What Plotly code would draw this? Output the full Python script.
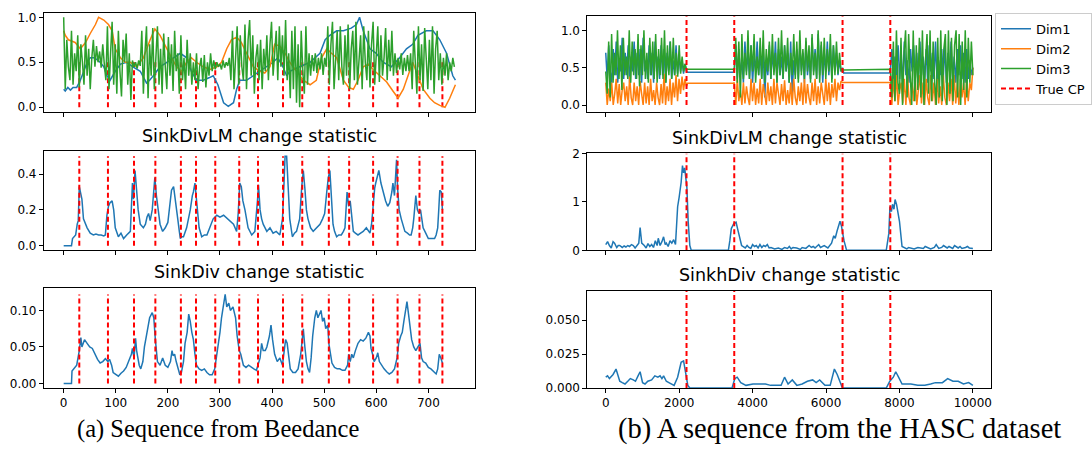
import numpy as np
import plotly.graph_objects as go

W, H = 1092, 461
BLUE, ORANGE, GREEN, RED = "#1f77b4", "#ff7f0e", "#2ca02c", "#ff0000"

# ---------------- Beedance (a) ----------------
bee_cp = [30, 85, 135, 176, 225, 254, 291, 337, 373, 421, 458, 509, 548, 594, 641, 683, 727]

bee_dim1_x = [0, 3, 8, 13, 18, 25, 32, 38, 45, 51, 58, 64, 70, 77, 83, 89, 99, 109, 121, 133, 147, 159, 165, 172,
              185, 198, 211, 224, 236, 245, 255, 268, 280, 287, 296, 303, 307, 316, 326, 332, 338, 351, 364, 377,
              390, 402, 411, 421, 428, 434, 453, 473, 492, 502, 511, 524, 537, 552, 562, 568, 575, 581, 588, 600,
              613, 629, 645, 658, 670, 680, 696, 709, 722, 735, 747, 752]
bee_dim1_y = [0.2, 0.18, 0.22, 0.19, 0.22, 0.22, 0.3, 0.4, 0.5, 0.55, 0.55, 0.53, 0.5, 0.45, 0.35, 0.3, 0.4, 0.48,
              0.5, 0.45, 0.4, 0.27, 0.3, 0.35, 0.45, 0.5, 0.55, 0.6, 0.55, 0.4, 0.3, 0.3, 0.33, 0.35, 0.25, 0.12,
              0.05, 0.01, 0.05, 0.2, 0.3, 0.3, 0.35, 0.4, 0.45, 0.5, 0.55, 0.45, 0.35, 0.4, 0.45, 0.5, 0.6, 0.75,
              0.8, 0.85, 0.85, 0.88, 0.92, 1.0, 0.85, 0.75, 0.65, 0.6, 0.5, 0.45, 0.55, 0.65, 0.7, 0.8, 0.85, 0.85,
              0.75, 0.6, 0.35, 0.3]

bee_dim2_x = [0, 3, 9, 22, 32, 42, 51, 61, 67, 77, 86, 93, 99, 109, 118, 128, 140, 153, 166, 175, 185, 198, 207,
              217, 226, 236, 245, 255, 268, 281, 294, 303, 313, 322, 332, 341, 351, 364, 377, 386, 396, 405, 415,
              425, 434, 447, 460, 473, 485, 495, 505, 514, 524, 537, 547, 556, 565, 575, 585, 594, 607, 620, 632,
              642, 652, 661, 670, 680, 690, 703, 712, 722, 732, 741, 752]
bee_dim2_y = [0.85, 0.8, 0.75, 0.72, 0.65, 0.72, 0.82, 0.92, 1.0, 0.97, 0.92, 0.85, 0.65, 0.55, 0.5, 0.5, 0.45,
              0.55, 0.75, 0.87, 0.8, 0.65, 0.55, 0.45, 0.4, 0.5, 0.55, 0.5, 0.45, 0.42, 0.45, 0.5, 0.65, 0.75, 0.78,
              0.72, 0.6, 0.45, 0.4, 0.38, 0.45, 0.7, 0.68, 0.6, 0.5, 0.4, 0.3, 0.25, 0.3, 0.55, 0.65, 0.6, 0.55,
              0.3, 0.22, 0.2, 0.3, 0.45, 0.48, 0.42, 0.35, 0.28, 0.18, 0.1, 0.2, 0.35, 0.5, 0.35, 0.2, 0.1, 0.05,
              0.02, 0.0, 0.1, 0.25]

# Dim3 sampled every 3 time steps
bee_dim3_y = [
    1.0, 0.2, 0.75, 0.45, 0.3, 0.85, 0.25, 0.6, 0.4, 0.8,
    0.22, 0.7, 0.5, 0.25, 0.8, 0.35, 0.65, 0.2, 0.55, 0.75,
    0.45, 0.68, 0.5, 0.62, 0.44, 0.7, 0.48, 0.3, 0.9, 0.2,
    0.6, 0.95, 0.25, 0.7, 0.15, 0.85, 0.4, 0.12, 0.75, 0.5,
    0.82, 0.25, 0.6, 0.08, 0.52, 0.45, 0.5, 0.43, 0.52, 0.46,
    0.85, 0.15, 0.6, 0.9, 0.1, 0.7, 0.35, 0.88, 0.2, 0.55,
    0.9, 0.25, 0.65, 0.15, 0.82, 0.45, 0.2, 0.78, 0.35, 0.7,
    0.18, 0.85, 0.4, 0.6, 0.15, 0.8, 0.3, 0.55, 0.2, 0.75,
    0.35, 0.6, 0.25, 0.5, 0.3, 0.6, 0.2, 0.45, 0.55, 0.28,
    0.58, 0.22, 0.5, 0.35, 0.6, 0.4, 0.52, 0.42, 0.5, 0.45,
    0.48, 0.42, 0.52, 0.44, 0.5, 0.46, 0.55, 0.3, 0.85, 0.2,
    0.6, 0.9, 0.25, 0.8, 0.45, 0.3, 0.92, 0.2, 0.75, 0.97,
    0.35, 0.8, 0.15, 0.55, 0.7, 0.3, 0.75, 0.2, 0.65, 0.4,
    0.8, 0.3, 0.7, 0.95, 0.35, 0.6, 0.85, 0.3, 0.9, 0.45,
    0.8, 0.35, 0.97, 0.3, 0.6, 0.1, 0.85, 0.2, 0.9, 0.05,
    0.7, 0.0, 0.85, 0.4, 0.15, 0.9, 0.25, 0.6, 0.35, 0.58,
    0.4, 0.6, 0.38, 0.55, 0.42, 0.6, 0.36, 0.55, 0.45, 0.9,
    0.25, 0.7, 0.95, 0.2, 0.6, 0.85, 0.3, 0.9, 0.45, 0.25,
    0.8, 0.35, 0.92, 0.2, 0.65, 0.85, 0.3, 0.95, 0.25, 0.55,
    0.8, 0.2, 0.9, 0.5, 0.3, 0.85, 0.22, 0.7, 0.95, 0.25,
    0.6, 0.9, 0.28, 0.8, 0.35, 0.55, 0.88, 0.3, 0.75, 0.4,
    0.85, 0.35, 0.6, 0.38, 0.55, 0.42, 0.6, 0.36, 0.55, 0.4,
    0.58, 0.4, 0.6, 0.2, 0.85, 0.45, 0.15, 0.9, 0.3, 0.7,
    0.18, 0.88, 0.5, 0.2, 0.75, 0.3, 0.9, 0.15, 0.65, 0.85,
    0.3, 0.6, 0.25, 0.55, 0.35, 0.6, 0.3, 0.5, 0.4, 0.55, 0.45]
bee_dim3_step = 3

bee_lm_x = [0, 15, 17, 20, 23, 26, 28, 30, 32, 35, 38, 42, 45, 51, 57, 62, 67, 72, 77, 80, 83, 86, 89, 93, 96, 99,
            105, 110, 115, 121, 128, 132, 134, 137, 140, 143, 147, 153, 157, 160, 163, 166, 170, 173, 175, 178, 181,
            185, 190, 195, 200, 203, 207, 211, 215, 219, 222, 224, 227, 230, 236, 243, 247, 249, 252, 256, 260, 265,
            270, 275, 281, 287, 294, 300, 307, 315, 320, 326, 332, 335, 338, 341, 344, 348, 354, 361, 367, 370, 372,
            374, 377, 380, 383, 390, 396, 402, 408, 415, 420, 423, 425, 428, 431, 434, 439, 443, 447, 453, 457, 460,
            463, 466, 469, 474, 479, 485, 492, 497, 501, 505, 508, 511, 514, 517, 520, 524, 528, 533, 537, 540, 544,
            547, 550, 552, 556, 560, 565, 570, 575, 581, 585, 588, 591, 594, 597, 599, 602, 605, 609, 613, 618, 622,
            626, 630, 632, 635, 639, 641, 644, 648, 652, 655, 660, 664, 667, 670, 672, 674, 676, 679, 682, 685, 688,
            690, 695, 700, 706, 712, 715, 718, 720, 722, 725, 727]
bee_lm_y = [0.0, 0.0, 0.04, 0.05, 0.06, 0.12, 0.14, 0.33, 0.30, 0.26, 0.15, 0.12, 0.10, 0.07, 0.06, 0.065, 0.06,
            0.06, 0.055, 0.06, 0.17, 0.22, 0.24, 0.25, 0.2, 0.1, 0.05, 0.07, 0.04, 0.06, 0.08, 0.35, 0.26, 0.42,
            0.3, 0.2, 0.12, 0.1, 0.12, 0.16, 0.18, 0.14, 0.2, 0.3, 0.38, 0.28, 0.2, 0.12, 0.08, 0.1, 0.13, 0.2,
            0.31, 0.33, 0.25, 0.15, 0.08, 0.04, 0.05, 0.05, 0.1, 0.2, 0.28, 0.3, 0.35, 0.22, 0.1, 0.05, 0.06,
            0.06, 0.1, 0.15, 0.17, 0.16, 0.17, 0.15, 0.14, 0.12, 0.08, 0.18, 0.35, 0.33, 0.25, 0.2, 0.1, 0.06,
            0.08, 0.17, 0.25, 0.34, 0.2, 0.15, 0.12, 0.08, 0.1, 0.07, 0.08, 0.06, 0.15, 0.35, 0.5, 0.5, 0.3, 0.15,
            0.05, 0.07, 0.08, 0.15, 0.33, 0.42, 0.32, 0.2, 0.15, 0.1, 0.08, 0.1, 0.12, 0.15, 0.18, 0.3, 0.38, 0.42,
            0.25, 0.12, 0.08, 0.05, 0.06, 0.06, 0.08, 0.1, 0.3, 0.22, 0.25, 0.18, 0.08, 0.07, 0.06, 0.07, 0.08,
            0.1, 0.08, 0.07, 0.12, 0.25, 0.32, 0.35, 0.38, 0.42, 0.35, 0.3, 0.25, 0.22, 0.24, 0.3, 0.35, 0.28,
            0.48, 0.32, 0.2, 0.15, 0.1, 0.08, 0.07, 0.06, 0.06, 0.1, 0.15, 0.2, 0.28, 0.2, 0.18, 0.2, 0.12, 0.1,
            0.07, 0.04, 0.04, 0.04, 0.06, 0.1, 0.2, 0.31, 0.3, 0.2]

bee_sd_x = [0, 15, 16, 20, 25, 30, 33, 35, 40, 45, 50, 55, 60, 65, 70, 75, 80, 85, 88, 92, 95, 100, 105, 110, 115,
            120, 125, 130, 132, 135, 138, 140, 145, 148, 152, 155, 160, 165, 170, 173, 176, 178, 180, 185, 190, 195,
            200, 205, 208, 210, 213, 216, 220, 223, 226, 230, 233, 237, 240, 243, 246, 249, 252, 255, 260, 265, 270,
            275, 280, 285, 290, 293, 297, 300, 303, 307, 310, 313, 317, 320, 325, 330, 333, 337, 340, 345, 350, 355,
            360, 365, 370, 373, 377, 380, 383, 387, 390, 395, 398, 401, 405, 410, 415, 420, 423, 426, 429, 432, 435,
            440, 445, 450, 455, 458, 460, 463, 466, 469, 472, 475, 478, 482, 485, 488, 491, 494, 497, 500, 503, 507,
            509, 512, 515, 520, 525, 530, 535, 540, 545, 547, 550, 553, 556, 560, 565, 570, 575, 580, 585, 588, 590,
            593, 596, 600, 603, 606, 610, 615, 620, 625, 630, 635, 640, 643, 647, 650, 653, 656, 659, 662, 665, 668,
            672, 676, 680, 684, 687, 690, 695, 700, 705, 710, 715, 718, 721, 724, 727]
bee_sd_y = [0.0, 0.0, 0.017, 0.02, 0.025, 0.045, 0.063, 0.05, 0.06, 0.055, 0.05, 0.048, 0.04, 0.033, 0.028, 0.03,
            0.034, 0.03, 0.033, 0.025, 0.015, 0.013, 0.01, 0.014, 0.017, 0.022, 0.03, 0.04, 0.048, 0.035, 0.062,
            0.045, 0.025, 0.02, 0.03, 0.05, 0.07, 0.09, 0.097, 0.09, 0.06, 0.04, 0.03, 0.025, 0.035, 0.025, 0.022,
            0.03, 0.045, 0.038, 0.04, 0.03, 0.02, 0.012, 0.015, 0.03, 0.055, 0.07, 0.095, 0.085, 0.07, 0.06, 0.04,
            0.025, 0.02, 0.018, 0.02, 0.015, 0.012, 0.012, 0.02, 0.035, 0.05, 0.07, 0.09, 0.11, 0.122, 0.105, 0.11,
            0.1, 0.105, 0.09, 0.065, 0.045, 0.04, 0.025, 0.022, 0.025, 0.022, 0.02, 0.018, 0.025, 0.035, 0.055,
            0.045, 0.045, 0.05, 0.065, 0.08, 0.06, 0.04, 0.03, 0.035, 0.025, 0.045, 0.06, 0.055, 0.035, 0.02, 0.015,
            0.015, 0.02, 0.04, 0.06, 0.075, 0.05, 0.03, 0.02, 0.015, 0.035, 0.065, 0.09, 0.1, 0.09, 0.095, 0.1,
            0.085, 0.09, 0.075, 0.08, 0.055, 0.04, 0.028, 0.022, 0.02, 0.02, 0.018, 0.018, 0.025, 0.04, 0.03, 0.04,
            0.035, 0.045, 0.055, 0.06, 0.058, 0.062, 0.07, 0.065, 0.048, 0.04, 0.03, 0.035, 0.042, 0.03, 0.025,
            0.02, 0.016, 0.013, 0.015, 0.02, 0.035, 0.055, 0.065, 0.07, 0.085, 0.1, 0.112, 0.095, 0.075, 0.06,
            0.05, 0.045, 0.05, 0.055, 0.035, 0.03, 0.028, 0.022, 0.02, 0.016, 0.013, 0.02, 0.04, 0.035, 0.028]

# ---------------- HASC (b) ----------------
hasc_cp = [2200, 3500, 6450, 7750]
hasc_seg1 = (0, 2200)
hasc_seg3 = (3500, 6450)
hasc_seg5 = (7750, 10000)
hasc_flat_dim1 = [0.44, 0.43]
hasc_flat_dim2 = [0.29, 0.30]
hasc_flat_dim3 = [0.48, 0.47]

hasc_dim1_s1 = [0.7, 0.35, 0.8, 0.45, 0.3, 0.75, 0.4, 0.85, 0.3, 0.6, 0.45, 0.9, 0.35, 0.7, 0.4, 0.8, 0.3, 0.65,
                0.45, 0.85, 0.35, 0.7, 0.4, 0.75, 0.3, 0.9, 0.45, 0.6, 0.35, 0.8, 0.4, 0.7, 0.3, 0.85, 0.45, 0.65,
                0.35, 0.8, 0.4, 0.75, 0.3, 0.7, 0.45, 0.85, 0.35, 0.6, 0.4, 0.8, 0.42, 0.65, 0.45, 0.6, 0.42, 0.55,
                0.45]
hasc_dim2_s1 = [0.3, 0.0, 0.22, 0.05, 0.3, 0.0, 0.15, 0.35, 0.02, 0.28, 0.0, 0.2, 0.3, 0.05, 0.25, 0.0, 0.38, 0.1,
                0.0, 0.3, 0.05, 0.25, 0.0, 0.32, 0.15, 0.0, 0.3, 0.02, 0.25, 0.0, 0.35, 0.05, 0.2, 0.0, 0.3, 0.1,
                0.0, 0.28, 0.02, 0.42, 0.0, 0.25, 0.05, 0.35, 0.0, 0.3, 0.1, 0.4, 0.05, 0.35, 0.15, 0.38, 0.2, 0.35,
                0.25]
hasc_dim3_s1 = [0.45, 0.15, 0.85, 0.1, 0.95, 0.3, 0.7, 0.4, 1.0, 0.35, 0.8, 0.2, 0.9, 0.4, 0.65, 0.35, 1.0, 0.3,
                0.85, 0.4, 0.75, 0.35, 0.95, 0.25, 0.8, 0.4, 1.0, 0.35, 0.7, 0.3, 0.9, 0.4, 0.85, 0.35, 0.95, 0.3,
                0.75, 0.4, 0.9, 0.35, 1.0, 0.3, 0.8, 0.4, 0.85, 0.35, 0.9, 0.4, 0.7, 0.38, 0.8, 0.42, 0.65, 0.45,
                0.55, 0.47]

hasc_dim1_s3 = [0.45, 0.8, 0.35, 0.75, 0.4, 0.6, 0.3, 0.85, 0.45, 0.7, 0.35, 0.8, 0.3, 0.65, 0.45, 0.85, 0.4,
                0.7, 0.35, 0.75, 0.1, 0.6, 0.4, 0.8, 0.35, 0.7, 0.45, 0.85, 0.3, 0.75, 0.4, 0.65, 0.35, 0.8, 0.45,
                0.7, 0.3, 0.85, 0.15, 0.6, 0.4, 0.75, 0.35, 0.8, 0.45, 0.7, 0.3, 0.85, 0.4, 0.65, 0.35, 0.9, 0.45,
                0.75, 0.35, 0.95, 0.4, 0.8, 0.3, 0.7, 0.45, 0.85, 0.4, 0.75, 0.35, 0.8, 0.45, 0.7, 0.4, 0.6, 0.45,
                0.5]
hasc_dim2_s3 = [0.3, 0.0, 0.35, 0.05, 0.2, 0.0, 0.3, 0.02, 0.25, 0.1, 0.0, 0.35, 0.05, 0.3, 0.0, 0.22, 0.02,
                0.35, 0.0, 0.28, 0.1, 0.0, 0.3, 0.05, 0.25, 0.0, 0.35, 0.02, 0.3, 0.15, 0.0, 0.28, 0.05, 0.33,
                0.0, 0.2, 0.02, 0.3, 0.0, 0.35, 0.1, 0.0, 0.25, 0.05, 0.3, 0.0, 0.35, 0.02, 0.28, 0.1, 0.0, 0.3,
                0.05, 0.35, 0.0, 0.25, 0.02, 0.3, 0.15, 0.0, 0.35, 0.05, 0.3, 0.0, 0.28, 0.1, 0.35, 0.05, 0.3,
                0.2, 0.32, 0.3]
hasc_dim3_s3 = [0.45, 0.9, 0.3, 0.85, 0.1, 0.95, 0.35, 0.7, 0.4, 1.0, 0.35, 0.8, 0.45, 0.95, 0.3, 0.65, 0.4, 0.9,
                0.35, 1.0, 0.3, 0.75, 0.45, 0.85, 0.35, 0.95, 0.4, 0.7, 0.3, 0.9, 0.4, 1.0, 0.35, 0.8, 0.45, 0.9,
                0.3, 0.7, 0.4, 0.95, 0.35, 0.85, 0.3, 1.0, 0.4, 0.75, 0.35, 0.9, 0.45, 0.8, 0.3, 0.95, 0.4, 0.7,
                0.35, 1.0, 0.3, 0.85, 0.4, 0.9, 0.35, 0.75, 0.45, 0.95, 0.3, 0.8, 0.4, 0.85, 0.42, 0.7, 0.45,
                0.48]

hasc_dim1_s5 = [0.45, 0.75, 0.3, 0.65, 0.4, 0.8, 0.35, 0.7, 0.25, 0.85, 0.4, 0.6, 0.3, 0.75, 0.45, 0.8, 0.35,
                0.7, 0.3, 0.85, 0.4, 0.65, 0.35, 0.75, 0.3, 0.8, 0.45, 0.7, 0.35, 0.85, 0.3, 0.6, 0.4, 0.75, 0.35,
                0.8, 0.3, 0.7, 0.45, 0.85, 0.35, 0.65, 0.3, 0.75, 0.4, 0.8, 0.35, 0.7, 0.3, 0.75, 0.35, 0.6, 0.4,
                0.5]
hasc_dim2_s5 = [0.3, 0.0, 0.35, 0.05, 0.4, 0.0, 0.2, 0.3, 0.02, 0.35, 0.0, 0.4, 0.1, 0.0, 0.3, 0.05, 0.35, 0.0,
                0.25, 0.4, 0.02, 0.3, 0.0, 0.35, 0.1, 0.0, 0.4, 0.05, 0.3, 0.0, 0.35, 0.02, 0.25, 0.0, 0.4, 0.1,
                0.0, 0.3, 0.05, 0.35, 0.0, 0.4, 0.02, 0.3, 0.0, 0.35, 0.1, 0.3, 0.0, 0.35, 0.05, 0.3, 0.2, 0.5]
hasc_dim3_s5 = [0.48, 0.1, 0.85, 0.05, 1.0, 0.3, 0.15, 0.9, 0.0, 0.7, 1.0, 0.1, 0.95, 0.4, 0.0, 1.0, 0.05, 0.8,
                0.2, 0.9, 0.1, 1.0, 0.0, 0.6, 0.95, 0.15, 1.0, 0.05, 0.85, 0.3, 0.0, 0.9, 0.1, 1.0, 0.05, 0.75,
                0.95, 0.0, 1.0, 0.15, 0.9, 0.05, 0.8, 1.0, 0.1, 0.95, 0.0, 0.85, 0.2, 1.0, 0.1, 0.9, 0.3, 0.85,
                0.4]

hasc_lm_x = [0, 50, 100, 150, 200, 240, 300, 340, 380, 450, 500, 550, 600, 650, 700, 750, 800, 850, 900, 936, 980,
             1050, 1100, 1150, 1200, 1250, 1300, 1350, 1400, 1430, 1480, 1530, 1575, 1620, 1650, 1700, 1750, 1800,
             1850, 1900, 1958, 2000, 2053, 2090, 2120, 2150, 2180, 2210, 2245, 2290, 2330, 3340, 3380, 3420, 3485,
             3550, 3590, 3630, 3700, 3800, 3850, 3900, 3950, 4000, 4050, 4100, 4150, 4200, 4250, 4300, 4350, 4400,
             4450, 4500, 4600, 4700, 4800, 4870, 4950, 5000, 5050, 5100, 5200, 5300, 5350, 5450, 5540, 5600, 5650,
             5700, 5800, 5850, 5950, 6050, 6100, 6150, 6210, 6250, 6300, 6340, 6380, 6420, 6490, 6560, 7640, 7710,
             7740, 7780, 7810, 7850, 7880, 7920, 7950, 8000, 8070, 8150, 8200, 8250, 8350, 8400, 8500, 8550, 8650,
             8700, 8800, 8850, 8950, 9000, 9070, 9150, 9200, 9300, 9350, 9450, 9500, 9600, 9650, 9700, 9800, 9850,
             9900, 10000]
hasc_lm_y = [0.12, 0.18, 0.1, 0.05, 0.18, 0.15, 0.06, 0.1, 0.1, 0.06, 0.09, 0.07, 0.1, 0.08, 0.12, 0.1, 0.05,
             0.1, 0.15, 0.47, 0.15, 0.1, 0.05, 0.14, 0.08, 0.12, 0.06, 0.2, 0.1, 0.25, 0.1, 0.18, 0.28, 0.12, 0.15,
             0.08, 0.2, 0.15, 0.22, 0.12, 0.9, 1.1, 1.4, 1.75, 1.6, 1.7, 1.5, 1.3, 0.6, 0.1, 0.0, 0.0, 0.2, 0.45,
             0.55, 0.58, 0.45, 0.3, 0.1, 0.05, 0.1, 0.06, 0.04, 0.12, 0.08, 0.1, 0.05, 0.12, 0.06, 0.1, 0.08, 0.12,
             0.05, 0.06, 0.03, 0.05, 0.02, 0.06, 0.04, 0.08, 0.03, 0.06, 0.05, 0.02, 0.06, 0.04, 0.1, 0.06, 0.08,
             0.05, 0.12, 0.06, 0.1, 0.05, 0.1, 0.15, 0.3, 0.25, 0.4, 0.5, 0.6, 0.5, 0.2, 0.0, 0.0, 0.35, 0.9, 0.8,
             0.95, 0.85, 1.05, 0.95, 0.8, 0.6, 0.08, 0.05, 0.03, 0.06, 0.04, 0.03, 0.06, 0.05, 0.04, 0.08, 0.05,
             0.03, 0.06, 0.12, 0.04, 0.06, 0.1, 0.05, 0.08, 0.04, 0.1, 0.05, 0.08, 0.04, 0.06, 0.08, 0.05, 0.04]

hasc_sd_x = [0, 50, 100, 200, 280, 382, 450, 525, 600, 670, 750, 810, 880, 936, 1003, 1070, 1146, 1250, 1337, 1420,
             1480, 1530, 1576, 1650, 1719, 1800, 1862, 1958, 2053, 2120, 2180, 2235, 2290, 3440, 3515, 3580, 3677,
             3820, 4011, 4200, 4350, 4490, 4650, 4776, 4870, 4966, 5081, 5205, 5350, 5492, 5635, 5730, 5826, 5970,
             6113, 6227, 6304, 6380, 6447, 7640, 7736, 7832, 7898, 7975, 8070, 8200, 8310, 8500, 8690, 8850, 8978,
             9169, 9312, 9456, 9600, 9742, 9885, 10000]
hasc_sd_y = [0.008, 0.009, 0.007, 0.01, 0.014, 0.005, 0.004, 0.003, 0.005, 0.007, 0.006, 0.005, 0.009, 0.012,
             0.004, 0.003, 0.005, 0.006, 0.009, 0.008, 0.009, 0.007, 0.009, 0.005, 0.004, 0.003, 0.002, 0.008, 0.019,
             0.02, 0.01, 0.002, 0.0, 0.0, 0.007, 0.008, 0.004, 0.002, 0.003, 0.003, 0.003, 0.002, 0.002, 0.002,
             0.008, 0.003, 0.006, 0.002, 0.003, 0.005, 0.006, 0.004, 0.006, 0.002, 0.002, 0.014, 0.01, 0.004, 0.0,
             0.0, 0.005, 0.008, 0.012, 0.008, 0.003, 0.003, 0.003, 0.002, 0.002, 0.003, 0.004, 0.004, 0.007, 0.005,
             0.005, 0.003, 0.004, 0.002]

# ---------------- text / ticks ----------------
titles = ["SinkDivLM change statistic", "SinkDiv change statistic",
          "SinkDivLM change statistic", "SinkhDiv change statistic"]
captions = ["(a) Sequence from Beedance", "(b) A sequence from the HASC dataset"]
legend_names = ["Dim1", "Dim2", "Dim3", "True CP"]

bee_xticks = [0, 100, 200, 300, 400, 500, 600, 700]
hasc_xticks = [0, 2000, 4000, 6000, 8000, 10000]
yticks = {
    1: ([0.0, 0.5, 1.0], ["0.0", "0.5", "1.0"]),
    2: ([0.0, 0.2, 0.4], ["0.0", "0.2", "0.4"]),
    3: ([0.0, 0.05, 0.10], ["0.00", "0.05", "0.10"]),
    4: ([0.0, 0.5, 1.0], ["0.0", "0.5", "1.0"]),
    5: ([0, 1, 2], ["0", "1", "2"]),
    6: ([0.0, 0.025, 0.05], ["0.000", "0.025", "0.050"]),
}

# ---------------- layout geometry (pixels) ----------------
LX = (44, 476)
RX = (589, 994)
ROWS_L = [(6, 108), (149, 251), (290, 393)]
ROWS_R = [(9.5, 108), (151, 251), (293, 393)]
BEE_XR = [-38, 789]
HASC_XR = [-500, 10500]
YR = {1: [-0.05, 1.05], 2: [-0.026, 0.526], 3: [-0.0063, 0.1305],
      4: [-0.09, 1.19], 5: [0, 2], 6: [0, 0.0714]}


def pdx(px):
    return px / W


def pdy(rng):
    return [1 - rng[1] / H, 1 - rng[0] / H]


fig = go.Figure()
CPDASH = "5px,3px"


def ax(i):
    return ("x" if i == 1 else f"x{i}"), ("y" if i == 1 else f"y{i}")


def line(i, x, y, color, width=1.5, name=None, legend=False, dash=None):
    xa, ya = ax(i)
    fig.add_trace(go.Scatter(x=x, y=y, mode="lines", xaxis=xa, yaxis=ya,
                             line=dict(color=color, width=width, dash=dash),
                             name=name, showlegend=legend, hoverinfo="skip"))


def cps(i, cp_list, top, legend=False):
    for k, c in enumerate(cp_list):
        line(i, [c, c], [0, top], RED, width=2, dash=CPDASH,
             name=legend_names[3], legend=(legend and k == 0))


# (a) raw
cps(1, bee_cp, 0.5)
line(1, bee_dim1_x, bee_dim1_y, BLUE)
line(1, bee_dim2_x, bee_dim2_y, ORANGE)
line(1, list(np.arange(len(bee_dim3_y)) * bee_dim3_step), bee_dim3_y, GREEN)
# (a) statistics
line(2, bee_lm_x, bee_lm_y, BLUE)
cps(2, bee_cp, max(bee_lm_y))
line(3, bee_sd_x, bee_sd_y, BLUE)
cps(3, bee_cp, max(bee_sd_y))


# (b) raw
def hasc_series(s1, s3, s5, flat):
    xs, ys = [], []
    segs = [hasc_seg1, hasc_seg3, hasc_seg5]
    for k, vals in enumerate((s1, s3, s5)):
        seg = segs[k]
        xs += list(np.linspace(seg[0], seg[1], len(vals)))
        ys += list(vals)
        if k < 2:
            xs += [seg[1] + 30, segs[k + 1][0] - 30]
            ys += [flat[k], flat[k]]
    return xs, ys


x1, y1 = hasc_series(hasc_dim1_s1, hasc_dim1_s3, hasc_dim1_s5, hasc_flat_dim1)
x2, y2 = hasc_series(hasc_dim2_s1, hasc_dim2_s3, hasc_dim2_s5, hasc_flat_dim2)
x3, y3 = hasc_series(hasc_dim3_s1, hasc_dim3_s3, hasc_dim3_s5, hasc_flat_dim3)
line(4, x1, y1, BLUE, name=legend_names[0], legend=True)
line(4, x2, y2, ORANGE, name=legend_names[1], legend=True)
line(4, x3, y3, GREEN, name=legend_names[2], legend=True)
cps(4, hasc_cp, YR[4][1], legend=True)
line(5, hasc_lm_x, hasc_lm_y, BLUE)
cps(5, hasc_cp, YR[5][1])
line(6, hasc_sd_x, hasc_sd_y, BLUE)
cps(6, hasc_cp, YR[6][1])

TICKFONT = dict(family="DejaVu Sans", size=12, color="black")
layout = dict(width=W, height=H, margin=dict(l=0, r=0, t=0, b=0),
              paper_bgcolor="white", plot_bgcolor="white", showlegend=True)

for i in range(1, 7):
    left = i <= 3
    row = (i - 1) % 3
    xdom = [pdx(LX[0]), pdx(LX[1])] if left else [pdx(RX[0]), pdx(RX[1])]
    ydom = pdy(ROWS_L[row] if left else ROWS_R[row])
    xa, ya = ax(i)
    xkey = "xaxis" if i == 1 else f"xaxis{i}"
    ykey = "yaxis" if i == 1 else f"yaxis{i}"
    xt = bee_xticks if left else hasc_xticks
    common = dict(showline=True, mirror=True, linecolor="black", linewidth=1, ticks="outside",
                  ticklen=4, tickcolor="black", tickwidth=1, showgrid=False, zeroline=False,
                  tickfont=TICKFONT, fixedrange=True)
    layout[xkey] = dict(domain=xdom, anchor=ya, range=BEE_XR if left else HASC_XR,
                        tickvals=xt, ticktext=[str(v) for v in xt],
                        showticklabels=(row == 2), **common)
    tv, tt = yticks[i]
    layout[ykey] = dict(domain=ydom, anchor=xa, range=YR[i], tickvals=tv, ticktext=tt, **common)

fig.update_layout(**layout)

fig.update_layout(legend=dict(x=pdx(998), y=1 - 6 / H, xanchor="left", yanchor="top",
                              bgcolor="white", bordercolor="#cccccc", borderwidth=1,
                              font=dict(family="DejaVu Sans", size=13, color="black"),
                              itemwidth=30, tracegroupgap=0))

title_pos = [(LX, ROWS_L[1]), (LX, ROWS_L[2]), (RX, ROWS_R[1]), (RX, ROWS_R[2])]
for t, (xr, yr) in zip(titles, title_pos):
    fig.add_annotation(text=t, x=pdx((xr[0] + xr[1]) / 2), y=1 - (yr[0] - 4) / H, xref="paper", yref="paper",
                       xanchor="center", yanchor="bottom", showarrow=False,
                       font=dict(family="DejaVu Sans", size=17.5, color="black"))

for c, cx, fs in zip(captions, [219, 842], [24.5, 28.5]):
    fig.add_annotation(text=c, x=pdx(cx), y=1 - 435 / H, xref="paper", yref="paper",
                       xanchor="center", yanchor="middle", showarrow=False,
                       font=dict(family="Liberation Serif", size=fs, color="black"))

fig.write_html("out.html", config={"displayModeBar": False})
